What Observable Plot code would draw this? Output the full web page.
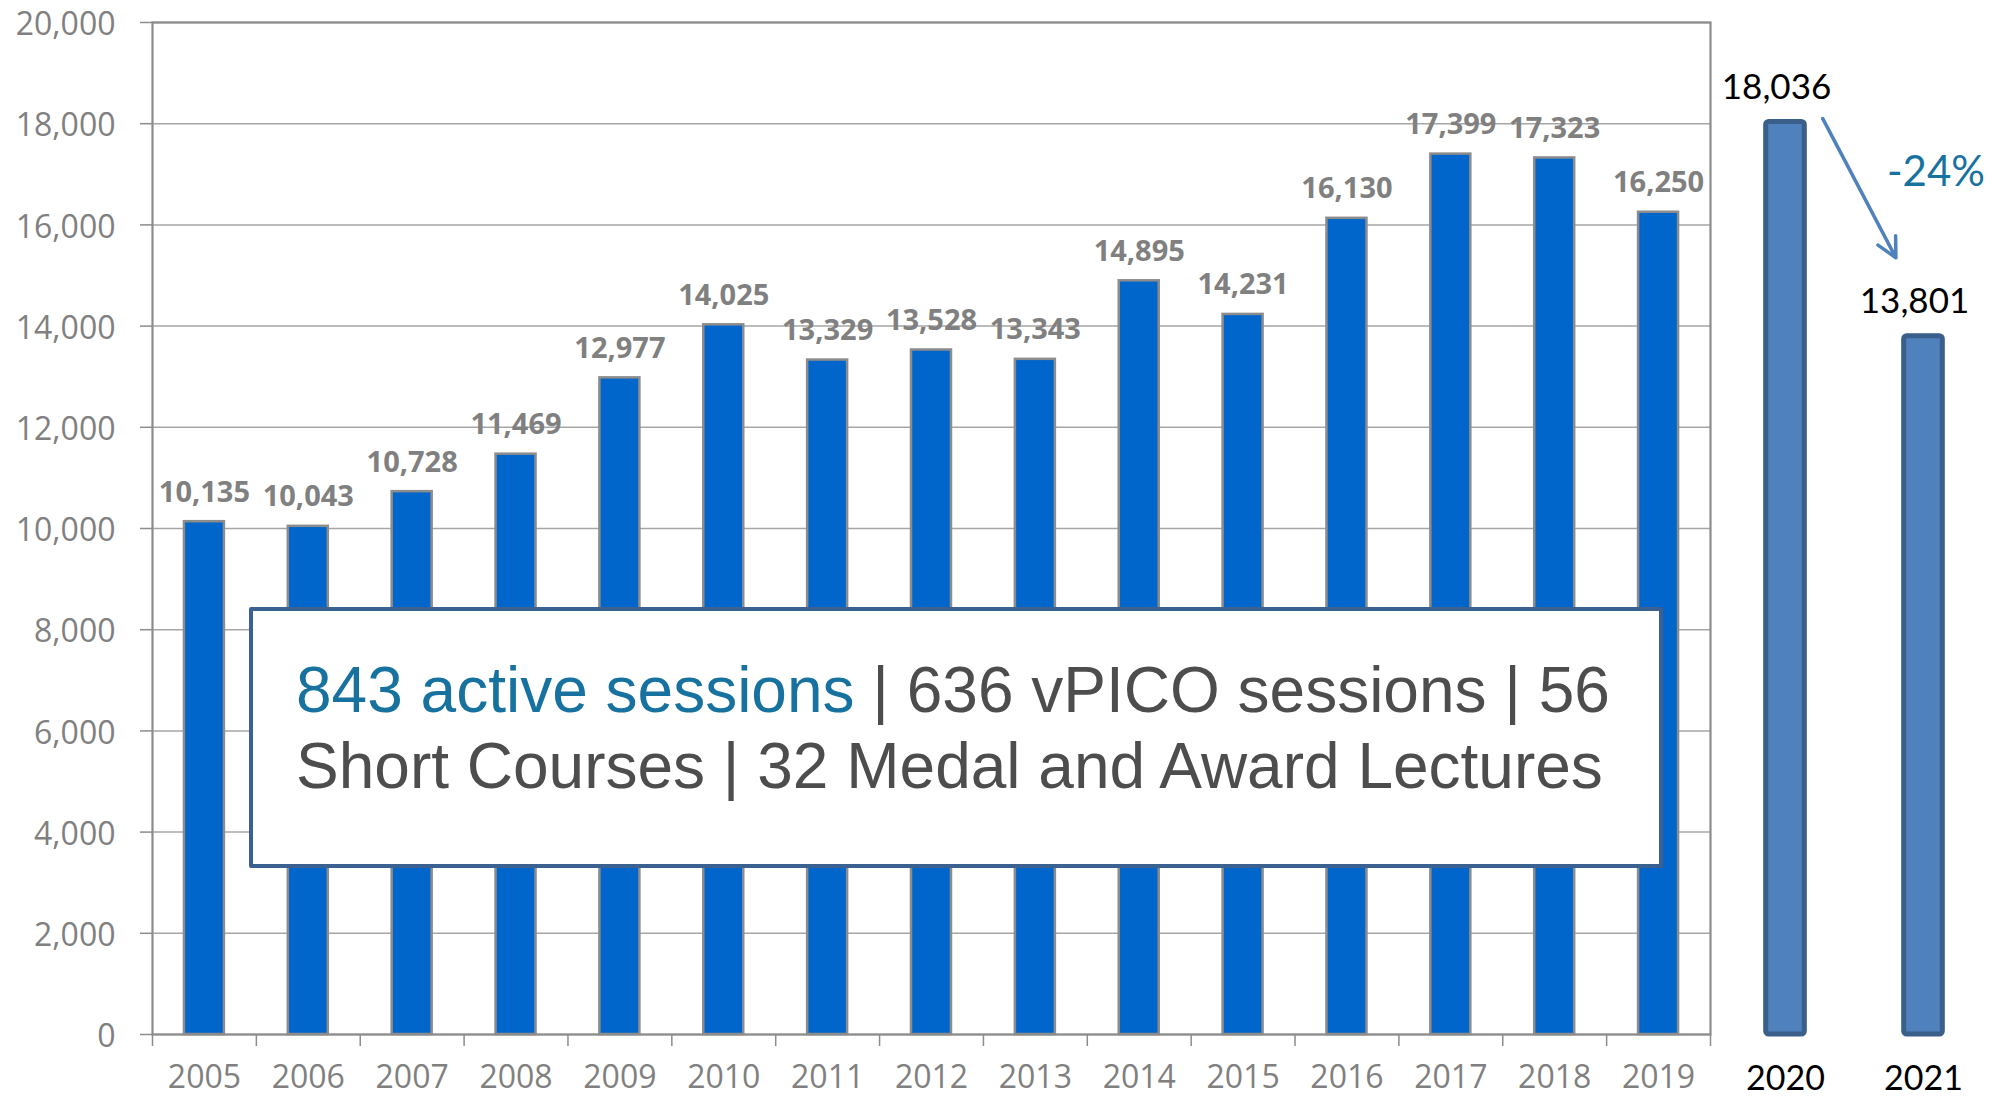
<!DOCTYPE html>
<html>
<head>
<meta charset="utf-8">
<script src="https://cdn.jsdelivr.net/npm/d3@7"></script>
<script src="https://cdn.jsdelivr.net/npm/@observablehq/plot@0.6"></script>
<style>
  html, body { margin: 0; padding: 0; background: #fff; }
  #wrap { position: relative; width: 1997px; height: 1099px; overflow: hidden; background: #fff; }
  #main { position: absolute; left: 0; top: 0; }
  #side { position: absolute; left: 1740px; top: 0; }
  #box {
    position: absolute; left: 249px; top: 607px; width: 1414px; height: 261px;
    box-sizing: border-box; border: 4px solid #3B6191; border-radius: 2px; background: #fff;
    font-family: "Liberation Sans", Arial, sans-serif; font-size: 64px; line-height: 76px;
    color: #4D4D4D; padding: 41px 0 0 43px; white-space: nowrap;
  }
  #box .hl { color: #17729F; }
</style>
</head>
<body>
<div id="wrap">
  <div id="main"></div>
  <div id="side"></div>
  <div id="box"></div>
</div>
<script>
// ---------- data ----------
const years = ["2005","2006","2007","2008","2009","2010","2011","2012","2013","2014","2015","2016","2017","2018","2019"];
const participants = [10135, 10043, 10728, 11469, 12977, 14025, 13329, 13528, 13343, 14895, 14231, 16130, 17399, 17323, 16250];
const onlineYears = [2020, 2021];
const onlineParticipants = [18036, 13801];
const yTicks = [0, 2000, 4000, 6000, 8000, 10000, 12000, 14000, 16000, 18000, 20000];
const changeLabel = "-24%";
const changeArrow = [{x1: 2020.27, y1: 18100, x2: 2020.80, y2: 15350}];
const changeLabelPos = [{x: 2021.09, y: 16760, text: changeLabel}];
const boxHighlight = "843 active sessions";
const boxLine1 = " | 636 vPICO sessions | 56";
const boxLine2 = "Short Courses | 32 Medal and Award Lectures";

// ---------- build ----------
const fmt = d3.format(",");
const mainData = years.map((year, i) => ({year, value: participants[i]}));
const onlineData = onlineYears.map((year, i) => ({year, value: onlineParticipants[i]}));

const W1 = 1740, H = 1099, ML = 152, MR = 30, MT = 22, MB = 65;
const step = (W1 - ML - MR) / years.length;

const main = Plot.plot({
  width: W1, height: H,
  marginLeft: ML, marginRight: MR, marginTop: MT, marginBottom: MB,
  style: {fontFamily: "'Open Sans', sans-serif", background: "transparent", overflow: "visible"},
  x: {domain: years, paddingInner: 0.615, paddingOuter: 0.3075, round: false, label: null},
  y: {domain: [0, 20000], label: null},
  marks: [
    Plot.gridY(yTicks, {stroke: "#A6A6A6", strokeOpacity: 1, strokeWidth: 1.5}),
    Plot.frame({stroke: "#8C8C8C", strokeWidth: 2.2}),
    Plot.ruleY(yTicks, {y: d => d, insetLeft: -12, insetRight: W1 - ML - MR, stroke: "#8C8C8C", strokeWidth: 1.5}),
    Plot.axisY(yTicks, {tickSize: 0, tickPadding: 37, tickFormat: fmt, fontSize: 32, dy: 2.5, color: "#808080", label: null}),
    Plot.axisX({tickSize: 0, tickPadding: 31, fontSize: 32, color: "#808080", label: null}),
    Plot.ruleX(years, {x: d => d, y1: 0, y2: 0, insetBottom: -12, dx: -step / 2, stroke: "#8C8C8C", strokeWidth: 1.5}),
    Plot.ruleX([years[years.length - 1]], {x: d => d, y1: 0, y2: 0, insetBottom: -12, dx: step / 2, stroke: "#8C8C8C", strokeWidth: 1.5}),
    Plot.barY(mainData, {x: "year", y: "value", fill: "#0066CC", stroke: "#8C8C8C", strokeWidth: 2.5}),
    Plot.text(mainData, {x: "year", y: "value", text: d => fmt(d.value), dy: -20, lineAnchor: "bottom",
      fill: "#808080", fontWeight: "bold", fontSize: 29, fontFamily: "'Open Sans', sans-serif"})
  ]
});
document.getElementById("main").appendChild(main);

const side = Plot.plot({
  width: 1997 - W1, height: H,
  marginLeft: 45, marginRight: 74, marginTop: MT, marginBottom: MB,
  style: {fontFamily: "Lato, sans-serif", background: "transparent", overflow: "visible"},
  x: {domain: onlineYears, label: null},
  y: {domain: [0, 20000], axis: null},
  marks: [
    Plot.rect(onlineData, {x1: d => d.year - 0.14, x2: d => d.year + 0.14, y1: 0, y2: "value",
      fill: "#4F81BD", stroke: "#3A5F8B", strokeWidth: 5, rx: 3}),
    Plot.text(onlineData, {x: "year", y: "value", text: d => fmt(d.value), dx: -9, dy: -23, lineAnchor: "bottom",
      fill: "#000", fontSize: 35, fontFamily: "Lato, sans-serif"}),
    Plot.arrow(changeArrow, {x1: "x1", y1: "y1", x2: "x2", y2: "y2", stroke: "#4F81BD", strokeWidth: 3.5,
      headLength: 9.4, headAngle: 54}),
    Plot.text(changeLabelPos, {x: "x", y: "y", text: "text", lineAnchor: "bottom", fill: "#17729F",
      fontSize: 42, fontFamily: "Lato, sans-serif"}),
    Plot.axisX(onlineYears, {tickSize: 0, tickPadding: 31, fontSize: 34, tickFormat: d => String(d),
      color: "#000", fontFamily: "Lato, sans-serif", label: null})
  ]
});
document.getElementById("side").appendChild(side);

const box = document.getElementById("box");
const hl = document.createElement("span");
hl.className = "hl";
hl.textContent = boxHighlight;
box.appendChild(hl);
box.appendChild(document.createTextNode(boxLine1));
box.appendChild(document.createElement("br"));
box.appendChild(document.createTextNode(boxLine2));
</script>
</body>
</html>
